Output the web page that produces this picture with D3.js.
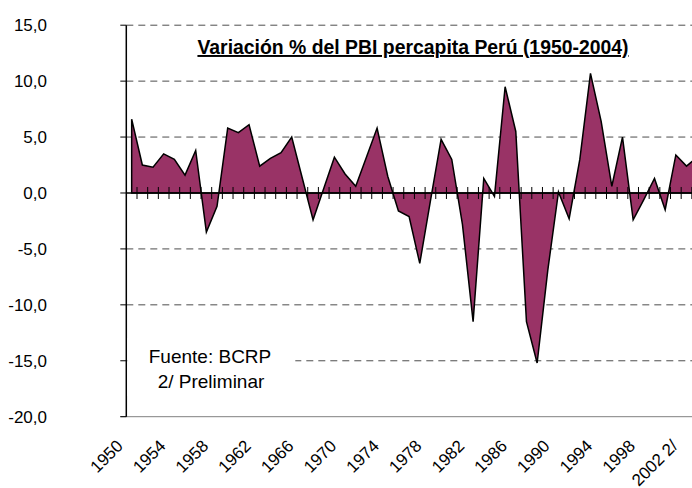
<html>
<head>
<script src="https://d3js.org/d3.v7.min.js"></script>
<style>
body { margin: 0; background: #fff; }
svg { display: block; font-family: "Liberation Sans", Arial, sans-serif; }
</style>
</head>
<body>
<div id="chart"></div>
<script>
  // años (categorías) y variación % del PBI per cápita
  var years = [1950, 1951, 1952, 1953, 1954, 1955, 1956, 1957, 1958, 1959,
               1960, 1961, 1962, 1963, 1964, 1965, 1966, 1967, 1968, 1969,
               1970, 1971, 1972, 1973, 1974, 1975, 1976, 1977, 1978, 1979,
               1980, 1981, 1982, 1983, 1984, 1985, 1986, 1987, 1988, 1989,
               1990, 1991, 1992, 1993, 1994, 1995, 1996, 1997, 1998, 1999,
               2000, 2001, 2002, 2003, 2004];
  var variacion = [null, 6.6, 2.5, 2.3, 3.5, 3.0, 1.6, 3.8, -3.5, -1.2,
                   5.8, 5.4, 6.1, 2.4, 3.1, 3.6, 5.0, 1.3, -2.4, 0.4,
                   3.2, 1.7, 0.6, 3.2, 5.8, 1.5, -1.6, -2.1, -6.3, -0.7,
                   4.8, 3.0, -2.8, -11.5, 1.3, -0.3, 9.5, 5.5, -11.5, -15.2,
                   -6.9, 0.1, -2.3, 3.0, 10.7, 6.4, 0.6, 5.0, -2.4, -0.6,
                   1.3, -1.5, 3.4, 2.4, 3.2];
  var yTicks = [15, 10, 5, 0, -5, -10, -15, -20];
  var labelYears = [1950, 1954, 1958, 1962, 1966, 1970, 1974, 1978, 1982, 1986, 1990, 1994, 1998, 2002];
  var labelText = {2002: "2002 2/"};

  var width = 692, height = 488;
  var plotLeft = 126.3, plotRight = 702, plotTop = 25.2, plotBottom = 416.7;

  var svg = d3.select("#chart").append("svg")
    .attr("width", width)
    .attr("height", height);

  var x = d3.scalePoint().domain(years).range([121, 121 + 54 * 10.67]);
  var y = d3.scaleLinear().domain([-20, 15]).range([plotBottom, plotTop]);
  var step = x.step();

  var data = years.map(function(yr, i) { return {year: yr, v: variacion[i]}; });

  // grid lines
  svg.selectAll(".grid")
    .data(yTicks.filter(function(t) { return t != 0 && t != -20; }))
    .enter().append("line")
      .attr("x1", plotLeft).attr("x2", plotRight)
      .attr("y1", function(d) { return y(d); })
      .attr("y2", function(d) { return y(d); })
      .attr("stroke", "#4d4d4d")
      .attr("stroke-width", 1)
      .attr("stroke-dasharray", "7,5");

  // bottom line
  svg.append("line")
    .attr("x1", plotLeft - 6).attr("x2", plotRight)
    .attr("y1", y(-20)).attr("y2", y(-20))
    .attr("stroke", "#808080").attr("stroke-width", 1);

  // area
  var area = d3.area()
    .defined(function(d) { return d.v != null; })
    .x(function(d) { return x(d.year); })
    .y0(y(0))
    .y1(function(d) { return y(d.v); });

  svg.append("path")
    .datum(data)
    .attr("d", area)
    .attr("fill", "#993366")
    .attr("stroke", "#000")
    .attr("stroke-width", 1.5)
    .attr("stroke-linejoin", "miter");

  // zero line with cross ticks
  svg.append("line")
    .attr("x1", plotLeft).attr("x2", plotRight)
    .attr("y1", y(0)).attr("y2", y(0))
    .attr("stroke", "#000").attr("stroke-width", 1.5);

  svg.selectAll(".xtick")
    .data(years.slice(1))
    .enter().append("line")
      .attr("x1", function(d) { return x(d) + step / 2; })
      .attr("x2", function(d) { return x(d) + step / 2; })
      .attr("y1", y(0) - 6).attr("y2", y(0) + 6)
      .attr("stroke", "#000").attr("stroke-width", 1);

  // y axis
  svg.append("line")
    .attr("x1", plotLeft).attr("x2", plotLeft)
    .attr("y1", plotTop).attr("y2", plotBottom)
    .attr("stroke", "#000").attr("stroke-width", 1.5);

  svg.selectAll(".ytick")
    .data(yTicks)
    .enter().append("line")
      .attr("x1", plotLeft - 6).attr("x2", plotLeft)
      .attr("y1", function(d) { return y(d); })
      .attr("y2", function(d) { return y(d); })
      .attr("stroke", "#000").attr("stroke-width", 1);

  svg.selectAll(".ylabel")
    .data(yTicks)
    .enter().append("text")
      .attr("x", 47)
      .attr("y", function(d) { return y(d) + 6; })
      .attr("text-anchor", "end")
      .attr("font-size", 17)
      .text(function(d) { return d3.format(".1f")(d).replace(".", ",").replace("−", "-"); });

  // x labels
  svg.selectAll(".xlabel")
    .data(labelYears)
    .enter().append("text")
      .attr("text-anchor", "end")
      .attr("font-size", 17)
      .attr("transform", function(d) { return "translate(" + (x(d) + 3) + "," + 447 + ") rotate(-45)"; })
      .text(function(d) { return labelText[d] || d; });

  // note box
  svg.append("rect")
    .attr("x", plotLeft + 1).attr("y", 338)
    .attr("width", 168).attr("height", 58)
    .attr("fill", "#fff");

  svg.append("text")
    .attr("x", 210).attr("y", 363)
    .attr("text-anchor", "middle")
    .attr("font-size", 19)
    .text("Fuente: BCRP");

  svg.append("text")
    .attr("x", 211).attr("y", 388)
    .attr("text-anchor", "middle")
    .attr("font-size", 19)
    .text("2/ Preliminar");

  // title
  svg.append("text")
    .attr("x", 413).attr("y", 54)
    .attr("text-anchor", "middle")
    .attr("font-size", 19.4)
    .attr("font-weight", "bold")
    .style("text-decoration", "underline")
    .text("Variación % del PBI percapita Perú (1950-2004)");
</script>
</body>
</html>
